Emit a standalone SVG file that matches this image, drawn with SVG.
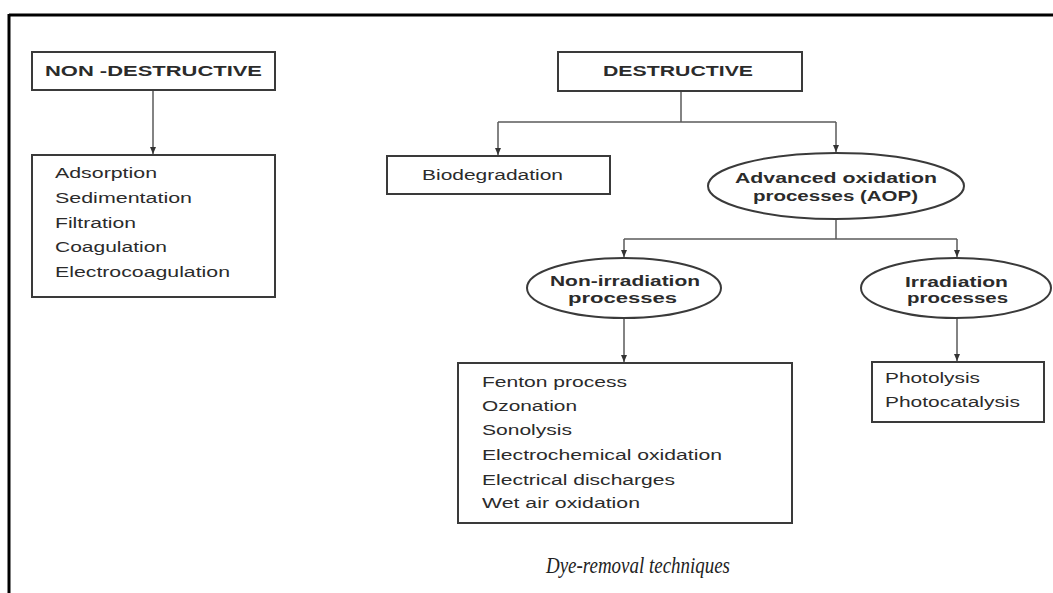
<svg xmlns="http://www.w3.org/2000/svg" width="1053" height="593" viewBox="0 0 1053 593">
<style>
.box{fill:#fff;stroke:#3a3a3a;stroke-width:2}
.ell{fill:#fff;stroke:#3a3a3a;stroke-width:2}
.t{font-family:"Liberation Sans",Arial,sans-serif;font-size:14px;fill:#2b2b2b}
.b{font-weight:bold}
.c{fill:none;stroke:#5a5a5a;stroke-width:1.5}
.cap{font-family:"Liberation Serif","Times New Roman",serif;font-style:italic;font-size:24px;fill:#222}
</style>
<defs>
<marker id="ah" markerWidth="8" markerHeight="6" refX="7" refY="3" orient="auto" markerUnits="userSpaceOnUse">
<path d="M0,0 L7,3 L0,6 Z" fill="#333"/>
</marker>
</defs>
<rect width="1053" height="593" fill="#fff"/>
<g id="frame">
<line x1="9" y1="15" x2="1053" y2="15" stroke="#000" stroke-width="3"/>
<line x1="9" y1="14" x2="9" y2="593" stroke="#000" stroke-width="3"/>
</g>
<g id="connectors">
<path class="c" d="M153,90 V154" marker-end="url(#ah)"/>
<path class="c" d="M681,91 V122"/>
<path class="c" d="M498,122 H836"/>
<path class="c" d="M498,122 V155" marker-end="url(#ah)"/>
<path class="c" d="M836,122 V152" marker-end="url(#ah)"/>
<path class="c" d="M836,219 V239"/>
<path class="c" d="M624,239 H957"/>
<path class="c" d="M624,239 V257" marker-end="url(#ah)"/>
<path class="c" d="M957,239 V257" marker-end="url(#ah)"/>
<path class="c" d="M624,318 V362" marker-end="url(#ah)"/>
<path class="c" d="M957,318 V361" marker-end="url(#ah)"/>
</g>
<g id="non-destructive">
<rect class="box" x="32" y="52" width="243" height="38"/>
<text class="t b" x="45" y="76" textLength="217" lengthAdjust="spacingAndGlyphs">NON -DESTRUCTIVE</text>
</g>
<g id="non-destructive-list">
<rect class="box" x="32" y="155" width="243" height="142"/>
<text class="t" x="55" y="178" textLength="102" lengthAdjust="spacingAndGlyphs">Adsorption</text>
<text class="t" x="55" y="203" textLength="137" lengthAdjust="spacingAndGlyphs">Sedimentation</text>
<text class="t" x="55" y="228" textLength="81" lengthAdjust="spacingAndGlyphs">Filtration</text>
<text class="t" x="55" y="252" textLength="112" lengthAdjust="spacingAndGlyphs">Coagulation</text>
<text class="t" x="55" y="277" textLength="175" lengthAdjust="spacingAndGlyphs">Electrocoagulation</text>
</g>
<g id="destructive">
<rect class="box" x="558" y="52" width="244" height="39"/>
<text class="t b" x="603" y="76" textLength="150" lengthAdjust="spacingAndGlyphs">DESTRUCTIVE</text>
</g>
<g id="biodegradation">
<rect class="box" x="387" y="156" width="223" height="38"/>
<text class="t" x="422" y="180" textLength="141" lengthAdjust="spacingAndGlyphs">Biodegradation</text>
</g>
<g id="aop">
<ellipse class="ell" cx="836" cy="186" rx="128" ry="33"/>
<text class="t b" x="735" y="183" textLength="202" lengthAdjust="spacingAndGlyphs">Advanced oxidation</text>
<text class="t b" x="753" y="201" textLength="165" lengthAdjust="spacingAndGlyphs">processes (AOP)</text>
</g>
<g id="non-irradiation">
<ellipse class="ell" cx="624" cy="288" rx="97" ry="30"/>
<text class="t b" x="550" y="286" textLength="150" lengthAdjust="spacingAndGlyphs">Non-irradiation</text>
<text class="t b" x="568" y="303" textLength="109" lengthAdjust="spacingAndGlyphs">processes</text>
</g>
<g id="irradiation">
<ellipse class="ell" cx="956" cy="288" rx="95" ry="30"/>
<text class="t b" x="905" y="287" textLength="103" lengthAdjust="spacingAndGlyphs">Irradiation</text>
<text class="t b" x="907" y="303" textLength="101" lengthAdjust="spacingAndGlyphs">processes</text>
</g>
<g id="non-irradiation-list">
<rect class="box" x="458" y="363" width="334" height="160"/>
<text class="t" x="482" y="387" textLength="145" lengthAdjust="spacingAndGlyphs">Fenton process</text>
<text class="t" x="482" y="411" textLength="95" lengthAdjust="spacingAndGlyphs">Ozonation</text>
<text class="t" x="482" y="435" textLength="90" lengthAdjust="spacingAndGlyphs">Sonolysis</text>
<text class="t" x="482" y="460" textLength="240" lengthAdjust="spacingAndGlyphs">Electrochemical oxidation</text>
<text class="t" x="482" y="485" textLength="193" lengthAdjust="spacingAndGlyphs">Electrical discharges</text>
<text class="t" x="482" y="508" textLength="158" lengthAdjust="spacingAndGlyphs">Wet air oxidation</text>
</g>
<g id="irradiation-list">
<rect class="box" x="872" y="362" width="172" height="60"/>
<text class="t" x="885" y="383" textLength="95" lengthAdjust="spacingAndGlyphs">Photolysis</text>
<text class="t" x="885" y="407" textLength="135" lengthAdjust="spacingAndGlyphs">Photocatalysis</text>
</g>
<g id="caption">
<text class="cap" x="546" y="573" textLength="184" lengthAdjust="spacingAndGlyphs">Dye-removal techniques</text>
</g>
</svg>
